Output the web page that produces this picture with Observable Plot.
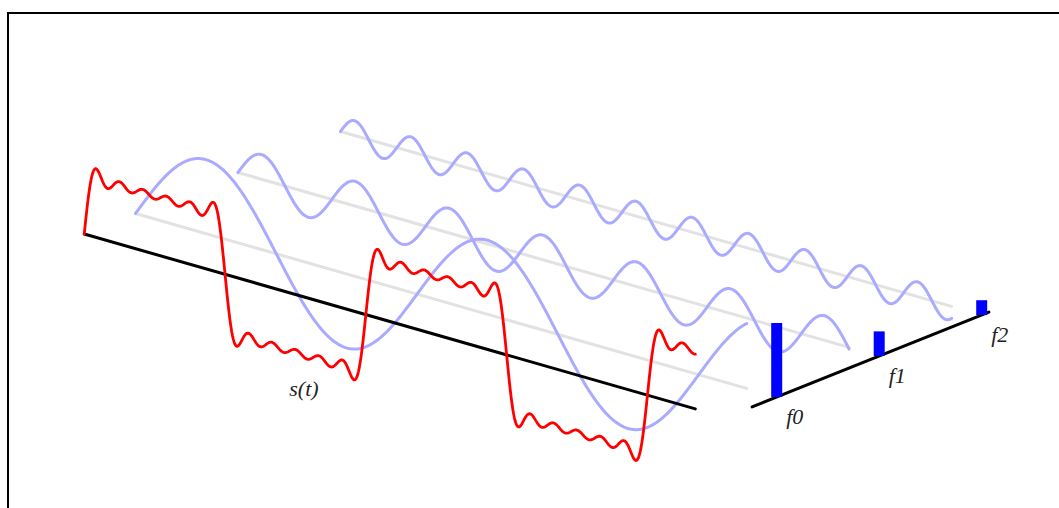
<!DOCTYPE html>
<html>
<head>
<meta charset="utf-8">
<script src="https://cdn.jsdelivr.net/npm/d3@7"></script>
<script src="https://cdn.jsdelivr.net/npm/@observablehq/plot@0.6"></script>
<style>
  html, body { margin: 0; padding: 0; background: #fff; overflow: hidden; }
  #chart { position: absolute; left: 0; top: 0; }
  #frame {
    position: absolute; left: 7px; top: 12px; width: 1200px; height: 700px;
    border-left: 2px solid #000; border-top: 2px solid #000; pointer-events: none;
  }
</style>
</head>
<body>
<div id="chart"></div>
<div id="frame"></div>
<script>
// Odd harmonics making up the square-wave signal, with their amplitudes
const harmonics = [1, 3, 5, 7, 9, 11];
const amplitudes = [1, 0.333, 0.2, 0.143, 0.111, 0.091];
// Components drawn on their own planes, and their spectrum labels
const shownHarmonics = [1, 3, 5];
const shownAmplitudes = [1, 0.333, 0.2];
const spectrumLabels = ["f0", "f1", "f2"];
const signalLabel = "s(t)";
// Time span drawn, in fundamental periods
const periods = 2.17;

// Oblique projection: time u (periods), depth v (plane index), amplitude w
const W = 1059, H = 508;
const origin = [135, 213];
const timeStep = [281.6, 80.6];
const depthStep = [102.5, -41];
const ampScale = 74;
const project = (u, v, w) => [
  origin[0] + u * timeStep[0] + v * depthStep[0],
  origin[1] + u * timeStep[1] + v * depthStep[1] - w * ampScale
];

const signalPlane = -0.5;
const spectrumTime = periods + 0.107;
const samples = d3.range(0, 801).map(i => periods * i / 800);

// Summed signal s(t)
const signal = samples.map(u => {
  let w = 0;
  harmonics.forEach((k, j) => { w += amplitudes[j] * Math.sin(2 * Math.PI * k * u); });
  const [x, y] = project(u, signalPlane, w);
  return {x, y};
});

// Individual components, one plane each
const components = shownHarmonics.flatMap((k, j) =>
  samples.map(u => {
    const [x, y] = project(u, j, shownAmplitudes[j] * Math.sin(2 * Math.PI * k * u));
    return {x, y, k};
  })
);

// Plane baselines
const baselines = shownHarmonics.flatMap((k, j) =>
  [0, periods].map(u => { const [x, y] = project(u, j, 0); return {x, y, k}; })
);
const timeAxis = [0, periods].map(u => { const [x, y] = project(u, signalPlane, 0); return {x, y}; });
const freqAxis = [-0.24, shownHarmonics.length - 1 + 0.07].map(v => {
  const [x, y] = project(spectrumTime, v, 0); return {x, y};
});

// Spectrum bars
const bars = shownAmplitudes.map((a, j) => {
  const [x1, y1] = project(spectrumTime, j, 0);
  const [x2, y2] = project(spectrumTime, j, a);
  return {x1, y1, x2, y2, label: spectrumLabels[j]};
});

const signalLabelPos = project(0.78, signalPlane, -1.25);

const plot = Plot.plot({
  width: W, height: H,
  margin: 0,
  x: {domain: [0, W], range: [0, W], axis: null},
  y: {domain: [0, H], range: [0, H], axis: null},
  style: {background: "transparent"},
  marks: [
    Plot.line(baselines, {x: "x", y: "y", z: "k", stroke: "#e2e2e2", strokeWidth: 3}),
    Plot.line(components, {x: "x", y: "y", z: "k", stroke: "#aaaaff", strokeWidth: 3}),
    Plot.line(timeAxis, {x: "x", y: "y", stroke: "#000", strokeWidth: 3}),
    Plot.line(signal, {x: "x", y: "y", stroke: "#ff0000", strokeWidth: 2.8}),
    Plot.line(freqAxis, {x: "x", y: "y", stroke: "#000", strokeWidth: 3}),
    Plot.link(bars, {x1: "x1", y1: "y1", x2: "x2", y2: "y2", stroke: "#0000ff", strokeWidth: 11, strokeLinecap: "butt"}),
    Plot.text(bars, {x: "x1", y: "y1", text: "label", dx: 18, dy: 20,
      fontFamily: "Liberation Serif", fontStyle: "italic", fontSize: 22, fill: "#222"}),
    Plot.text([signalLabel], {x: () => signalLabelPos[0], y: () => signalLabelPos[1], text: d => d,
      fontFamily: "Liberation Serif", fontStyle: "italic", fontSize: 22, fill: "#222"})
  ]
});
document.getElementById("chart").appendChild(plot);
</script>
</body>
</html>
